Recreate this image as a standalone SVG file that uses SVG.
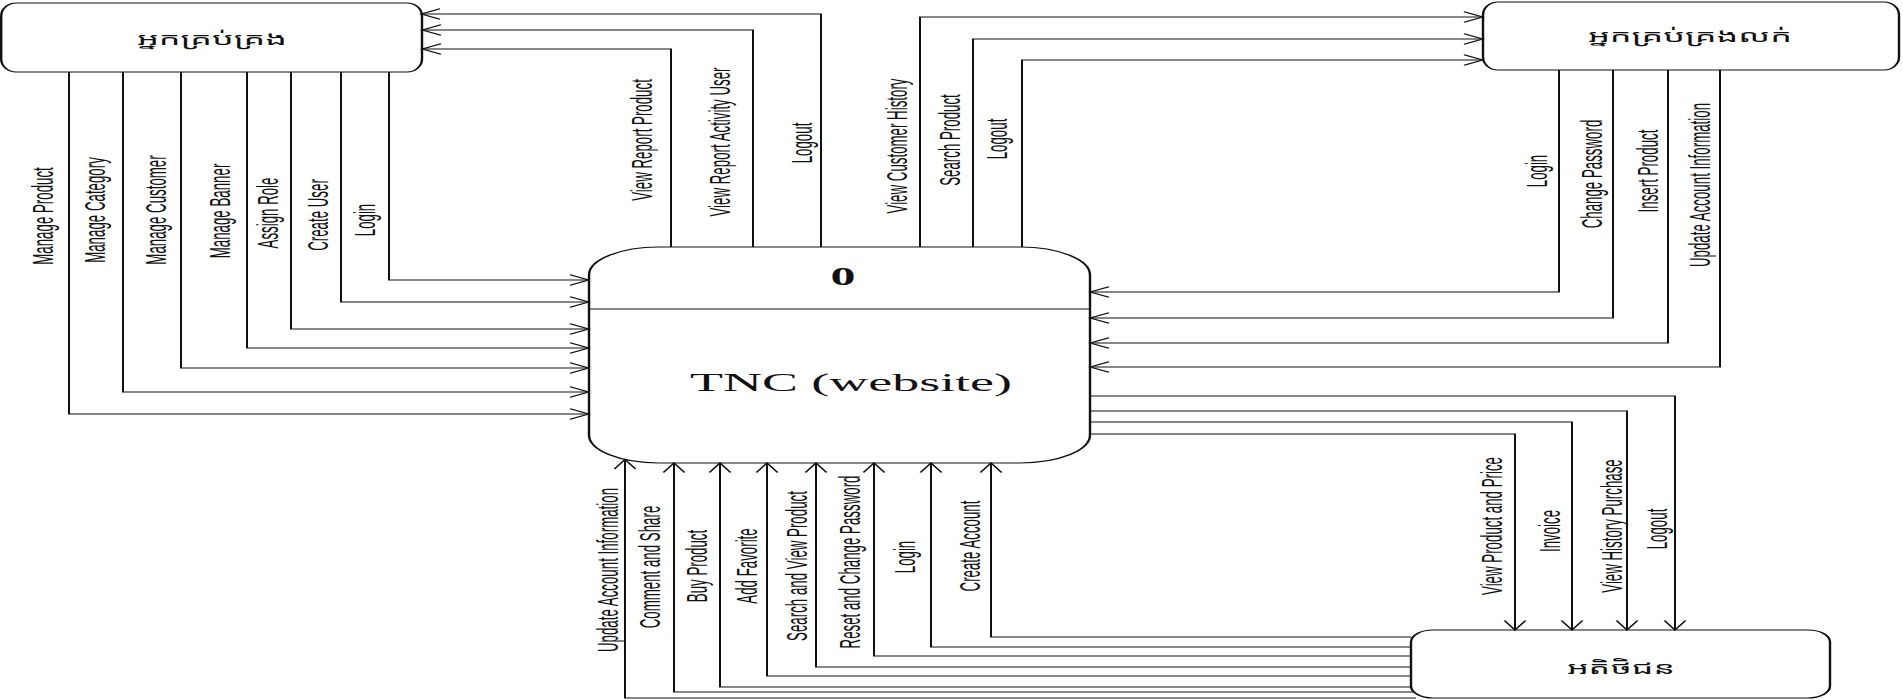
<svg xmlns="http://www.w3.org/2000/svg" width="1903" height="700" viewBox="0 0 1903 700">
<defs>
<marker id="arr" markerUnits="userSpaceOnUse" orient="auto" refX="0" refY="0" markerWidth="12" markerHeight="12" overflow="visible">
<path d="M-9.5,-5.3 L0,0 L-9.5,5.3" fill="none" stroke="#111" stroke-width="1"/>
</marker>
<style>
.box{fill:#fff;stroke:#111;stroke-width:1.2}
.div{stroke:#111;stroke-width:1.2}
.flow{fill:none;stroke:#111;stroke-width:1;marker-end:url(#arr)}
.lbl{font-family:"Liberation Sans",Arial,sans-serif;font-size:13.3px;fill:#111;text-anchor:middle;dominant-baseline:central}
.kh{font-family:"Noto Sans Khmer","Khmer OS","Khmer OS System","Noto Sans",sans-serif;font-size:17px;fill:#111;text-anchor:middle;dominant-baseline:central}
.serif{font-family:"Liberation Serif","Times New Roman",serif;fill:#111;text-anchor:middle}
</style>
</defs>
<rect width="1903" height="700" fill="#fff"/>
<g transform="scale(2 1)">
<g id="admin">
<rect class="box" x="0.6" y="3" width="210.4" height="69" rx="7.5" ry="13"/>
<text class="kh" x="106" y="38" textLength="75" lengthAdjust="spacingAndGlyphs">អ្នកគ្រប់គ្រង</text>
</g>
<g id="sales-manager">
<rect class="box" x="741.5" y="2" width="208" height="68" rx="7.5" ry="13"/>
<text class="kh" x="845" y="35" textLength="102" lengthAdjust="spacingAndGlyphs">អ្នកគ្រប់គ្រងលក់</text>
</g>
<g id="process">
<rect class="box" x="294.5" y="247" width="250.5" height="216" rx="35" ry="28"/>
<line class="div" x1="294.5" y1="309" x2="545" y2="309"/>
<text class="serif" x="421.5" y="285" font-size="25" font-weight="bold">0</text>
<text class="serif" x="425.5" y="391" font-size="25" textLength="161" lengthAdjust="spacingAndGlyphs">TNC (website)</text>
</g>
<g id="customer">
<rect class="box" x="705.5" y="630" width="209.5" height="68" rx="11" ry="12"/>
<text class="kh" x="810.5" y="667" textLength="54" lengthAdjust="spacingAndGlyphs">អតិថិជន</text>
</g>
<g id="connectors">
<path class="flow" d="M34.5,72 V414 H294.5"/>
<path class="flow" d="M61.5,72 V392 H294.5"/>
<path class="flow" d="M90.5,72 V368 H294.5"/>
<path class="flow" d="M123.5,72 V348 H294.5"/>
<path class="flow" d="M145.5,72 V329 H294.5"/>
<path class="flow" d="M170.5,72 V302 H294.5"/>
<path class="flow" d="M194.5,72 V280 H294.5"/>
<path class="flow" d="M335.5,247 V49 H211"/>
<path class="flow" d="M376.5,247 V30 H211"/>
<path class="flow" d="M410.5,247 V14 H210.5"/>
<path class="flow" d="M460,247 V17 H741.5"/>
<path class="flow" d="M486.5,247 V39 H741.5"/>
<path class="flow" d="M511,247 V60 H741.5"/>
<path class="flow" d="M779.5,70 V292 H545"/>
<path class="flow" d="M806.5,70 V318 H545"/>
<path class="flow" d="M834,70 V343 H545"/>
<path class="flow" d="M860,70 V367 H545"/>
<path class="flow" d="M545,396 H837.5 V630"/>
<path class="flow" d="M545,411 H813.5 V630"/>
<path class="flow" d="M545,422 H786 V630"/>
<path class="flow" d="M545,434 H757.5 V630"/>
<path class="flow" d="M705.5,637 H495.5 V463"/>
<path class="flow" d="M705.5,647 H465.5 V463"/>
<path class="flow" d="M705.5,656 H437 V463"/>
<path class="flow" d="M705.5,667 H408 V463"/>
<path class="flow" d="M705.5,676 H383.5 V463"/>
<path class="flow" d="M705.5,687 H360 V463"/>
<path class="flow" d="M706.5,692 H337 V463"/>
<path class="flow" d="M708,698 H312.5 V459.5"/>
</g>
<g id="connector-labels">
<text class="lbl" transform="translate(21.5 216) rotate(-90) scale(1 1.12)">Manage Product</text>
<text class="lbl" transform="translate(47.5 210) rotate(-90) scale(1 1.12)">Manage Category</text>
<text class="lbl" transform="translate(78 210) rotate(-90) scale(1 1.12)">Manage Customer</text>
<text class="lbl" transform="translate(110 211) rotate(-90) scale(1 1.12)">Manage Banner</text>
<text class="lbl" transform="translate(134 213) rotate(-90) scale(1 1.12)">Assign Role</text>
<text class="lbl" transform="translate(159 215) rotate(-90) scale(1 1.12)">Create User</text>
<text class="lbl" transform="translate(182.5 220) rotate(-90) scale(1 1.12)">Login</text>
<text class="lbl" transform="translate(321 140) rotate(-90) scale(1 1.12)">View Report Product</text>
<text class="lbl" transform="translate(360 142) rotate(-90) scale(1 1.12)">View Report Activity User</text>
<text class="lbl" transform="translate(401 143) rotate(-90) scale(1 1.12)">Logout</text>
<text class="lbl" transform="translate(448.5 146) rotate(-90) scale(1 1.12)">View Customer History</text>
<text class="lbl" transform="translate(475 140) rotate(-90) scale(1 1.12)">Search Product</text>
<text class="lbl" transform="translate(498.5 139) rotate(-90) scale(1 1.12)">Logout</text>
<text class="lbl" transform="translate(768.5 171) rotate(-90) scale(1 1.12)">Login</text>
<text class="lbl" transform="translate(796 174) rotate(-90) scale(1 1.12)">Change Password</text>
<text class="lbl" transform="translate(824 171) rotate(-90) scale(1 1.12)">Insert Product</text>
<text class="lbl" transform="translate(850 185) rotate(-90) scale(1 1.12)">Update Account Information</text>
<text class="lbl" transform="translate(746 526) rotate(-90) scale(1 1.12)">View Product and Price</text>
<text class="lbl" transform="translate(775 531) rotate(-90) scale(1 1.12)">Invoice</text>
<text class="lbl" transform="translate(806 526) rotate(-90) scale(1 1.12)">View History Purchase</text>
<text class="lbl" transform="translate(828.5 529) rotate(-90) scale(1 1.12)">Logout</text>
<text class="lbl" transform="translate(304 570) rotate(-90) scale(1 1.12)">Update Account Information</text>
<text class="lbl" transform="translate(325 567) rotate(-90) scale(1 1.12)">Comment and Share</text>
<text class="lbl" transform="translate(348.5 566) rotate(-90) scale(1 1.12)">Buy Product</text>
<text class="lbl" transform="translate(373.5 566) rotate(-90) scale(1 1.12)">Add Favorite</text>
<text class="lbl" transform="translate(398.5 566) rotate(-90) scale(1 1.12)">Search and View Product</text>
<text class="lbl" transform="translate(425 562) rotate(-90) scale(1 1.12)">Reset and Change Password</text>
<text class="lbl" transform="translate(452.5 557) rotate(-90) scale(1 1.12)">Login</text>
<text class="lbl" transform="translate(485 546) rotate(-90) scale(1 1.12)">Create Account</text>
</g>
</g>
</svg>
